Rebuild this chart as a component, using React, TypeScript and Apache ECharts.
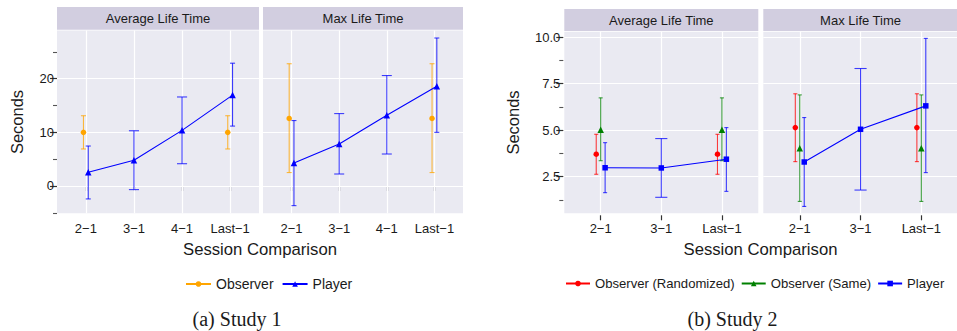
import React, { useEffect, useRef } from 'react';
import * as echarts from 'echarts';

// ---------- Data ----------
const catsA = ['2−1', '3−1', '4−1', 'Last−1'];
const catsB = ['2−1', '3−1', 'Last−1'];

const ticksAMajor = [0, 10, 20];
const ticksAMinor = [-5, 5, 15, 25];
const ticksBMajor = [2.5, 5, 7.5, 10];
const ticksBMinor = [1.25, 3.75, 6.25, 8.75];

// Study 1 – Average Life Time
const a1ObsMean = [10.0, null, null, 10.0];
const a1ObsLo = [6.9, null, null, 6.9];
const a1ObsHi = [13.1, null, null, 13.1];
const a1PlyMean = [2.55, 4.78, 10.37, 16.95];
const a1PlyLo = [-2.42, -0.68, 4.15, 11.17];
const a1PlyHi = [7.45, 10.3, 16.6, 22.9];
// Study 1 – Max Life Time
const a2ObsMean = [12.6, null, null, 12.6];
const a2ObsLo = [2.5, null, null, 2.5];
const a2ObsHi = [22.8, null, null, 22.8];
const a2PlyMean = [4.28, 7.82, 13.2, 18.6];
const a2PlyLo = [-3.67, 2.23, 5.96, 10.0];
const a2PlyHi = [12.2, 13.5, 20.6, 27.6];

// Study 2 – Average Life Time
const b1RandMean = [3.71, null, 3.71];
const b1RandLo = [2.63, null, 2.63];
const b1RandHi = [4.78, null, 4.78];
const b1SameMean = [5.03, null, 5.03];
const b1SameLo = [3.36, null, 3.36];
const b1SameHi = [6.74, null, 6.74];
const b1PlyMean = [2.98, 2.97, 3.44];
const b1PlyLo = [1.64, 1.39, 1.71];
const b1PlyHi = [4.33, 4.55, 5.14];
// Study 2 – Max Life Time
const b2RandMean = [5.14, null, 5.14];
const b2RandLo = [3.31, null, 3.31];
const b2RandHi = [6.96, null, 6.96];
const b2SameMean = [4.03, null, 4.03];
const b2SameLo = [1.17, null, 1.17];
const b2SameHi = [6.9, null, 6.9];
const b2PlyMean = [3.29, 5.05, 6.31];
const b2PlyLo = [0.9, 1.78, 2.72];
const b2PlyHi = [5.68, 8.32, 9.94];

// ---------- Styling ----------
const FONT = 'Liberation Sans';
const PANEL_BG = '#EAEAF2';
const STRIP_BG = '#D2CEE0';
const TXT = '#1a1a1a';
const TICK = '#333333';
const ORANGE = '#FFA500';
const BLUE = '#0000FF';
const RED = '#FF0000';
const GREEN = '#008000';

type Group = {
  name: string;
  color: string;
  symbol: string;
  size: number;
  mean: (number | null)[];
  lo: (number | null)[];
  hi: (number | null)[];
};

function panelSeries(groups: Group[], axisIdx: number, yIdx: number, dodge: number, capW: number, majors: number[], nCat: number) {
  const pos: number[][] = groups.map(() => []);
  const cap: number[][] = groups.map(() => []);
  for (let c = 0; c < nCat; c++) {
    const present = groups.map((g, i) => (g.mean[c] != null ? i : -1)).filter((i) => i >= 0);
    const n = present.length;
    present.forEach((gi, k) => {
      pos[gi][c] = c + 1 + (k - (n - 1) / 2) * (dodge / n);
      cap[gi][c] = capW / n;
    });
  }
  const series: any[] = [];
  const gridLines: any[] = [];
  majors.forEach((v) => gridLines.push({ yAxis: v }));
  for (let c = 0; c < nCat; c++) gridLines.push({ xAxis: c + 1 });
  series.push({
    type: 'line',
    name: 'grid-' + axisIdx,
    xAxisIndex: axisIdx,
    yAxisIndex: yIdx,
    data: [],
    z: 1,
    silent: true,
    markLine: {
      z: 1,
      silent: true,
      symbol: ['none', 'none'],
      label: { show: false },
      lineStyle: { color: '#ffffff', width: 1.2, type: 'solid', opacity: 1 },
      emphasis: { disabled: true },
      data: gridLines,
    },
  });
  groups.forEach((g, gi) => {
    const errData: number[][] = [];
    const ptData: any[] = [];
    for (let c = 0; c < nCat; c++) {
      if (g.mean[c] != null) {
        errData.push([pos[gi][c], g.mean[c] as number, g.lo[c] as number, g.hi[c] as number, cap[gi][c]]);
        ptData.push([pos[gi][c], g.mean[c]]);
      } else {
        ptData.push([c + 1, '-']);
      }
    }
    series.push({
      type: 'custom',
      name: g.name + ' err',
      xAxisIndex: axisIdx,
      yAxisIndex: yIdx,
      z: 3,
      silent: true,
      data: errData,
      renderItem: (params: any, api: any) => {
        const x = api.value(0);
        const lo = api.value(2);
        const hi = api.value(3);
        const w = api.value(4);
        const a = api.coord([x, hi]);
        const b = api.coord([x, lo]);
        const half = api.size([w, 0])[0] / 2;
        const style = { stroke: g.color, lineWidth: 1.1, opacity: 0.75 };
        return {
          type: 'group',
          children: [
            { type: 'line', shape: { x1: a[0], y1: a[1], x2: b[0], y2: b[1] }, style },
            { type: 'line', shape: { x1: a[0] - half, y1: a[1], x2: a[0] + half, y2: a[1] }, style },
            { type: 'line', shape: { x1: b[0] - half, y1: b[1], x2: b[0] + half, y2: b[1] }, style },
          ],
        };
      },
    });
    series.push({
      type: 'line',
      name: g.name,
      xAxisIndex: axisIdx,
      yAxisIndex: yIdx,
      z: 4,
      data: ptData,
      connectNulls: false,
      symbol: g.symbol,
      symbolSize: g.size,
      showSymbol: true,
      itemStyle: { color: g.color },
      lineStyle: { color: g.color, width: 1.1 },
      emphasis: { disabled: true },
      silent: true,
    });
  });
  return series;
}

function xAxisCfg(gridIndex: number, cats: string[]) {
  const vals = cats.map((_, i) => i + 1);
  return {
    type: 'value',
    gridIndex,
    min: 0.4,
    max: cats.length + 0.6,
    offset: 2,
    axisLine: { show: false },
    axisTick: { show: true, length: 5, customValues: vals, lineStyle: { color: TICK, width: 1.2 } },
    axisLabel: {
      customValues: vals,
      fontSize: 13,
      color: TXT,
      fontFamily: FONT,
      margin: 7,
      formatter: (v: number) => (Math.abs(v - Math.round(v)) < 1e-6 && cats[Math.round(v) - 1]) || '',
    },
    splitLine: { show: false },
  };
}

function yAxisMajor(gridIndex: number, min: number, max: number, majors: number[], fmt: (v: number) => string, offset: number) {
  return {
    type: 'value',
    gridIndex,
    position: 'left',
    min,
    max,
    offset,
    axisLine: { show: false },
    axisTick: { show: true, length: 7, customValues: majors, lineStyle: { color: TICK, width: 1.2 } },
    axisLabel: { customValues: majors, fontSize: 13, color: TXT, fontFamily: FONT, margin: 3, formatter: fmt },
    splitLine: { show: false },
  };
}

function yAxisMinor(gridIndex: number, min: number, max: number, minors: number[], offset: number) {
  return {
    type: 'value',
    gridIndex,
    position: 'left',
    min,
    max,
    offset,
    axisLine: { show: false },
    axisTick: { show: true, length: 4, customValues: minors, lineStyle: { color: '#555', width: 1.1 } },
    axisLabel: { show: false },
    splitLine: { show: false },
  };
}

function yAxisHidden(gridIndex: number, min: number, max: number) {
  return {
    type: 'value',
    gridIndex,
    min,
    max,
    axisLine: { show: false },
    axisTick: { show: false },
    axisLabel: { show: false },
    splitLine: { show: false },
  };
}

function strip(x: number, y: number, w: number, h: number, text: string) {
  return [
    { type: 'rect', shape: { x, y, width: w, height: h }, style: { fill: STRIP_BG }, silent: true },
    {
      type: 'text',
      x: x + w / 2,
      y: y + h / 2,
      silent: true,
      style: { text, fill: TXT, fontSize: 13, fontFamily: FONT, textAlign: 'center', textVerticalAlign: 'middle' },
    },
  ];
}

function label(x: number, y: number, text: string, size: number, family: string, rotation = 0) {
  return {
    type: 'text',
    x,
    y,
    rotation,
    silent: true,
    style: { text, fill: TXT, fontSize: size, fontFamily: family, textAlign: 'center', textVerticalAlign: 'middle' },
  };
}

export default function App() {
  const ref = useRef<HTMLDivElement>(null);
  useEffect(() => {
    document.body.style.margin = '0';
    document.body.style.overflow = 'hidden';
    if (!ref.current) return;
    const chart = echarts.init(ref.current, undefined, { renderer: 'svg' });

    const A_MIN = -5.1, A_MAX = 29.0;
    const B_MIN = 0.53, B_MAX = 10.3;

    const grids = [
      { left: 57, top: 30.5, width: 202, height: 182.8 },
      { left: 263, top: 30.5, width: 200, height: 182.8 },
      { left: 564.3, top: 31.7, width: 194, height: 181.6 },
      { left: 763.3, top: 31.7, width: 194.5, height: 181.6 },
    ].map((g) => ({ ...g, show: true, backgroundColor: PANEL_BG, borderWidth: 0, containLabel: false, outerBoundsMode: 'none' }));

    const fmtA = (v: number) => String(Math.round(v));
    const fmtB = (v: number) => v.toFixed(1);

    const yAxis = [
      yAxisMajor(0, A_MIN, A_MAX, ticksAMajor, fmtA, 0),
      yAxisMinor(0, A_MIN, A_MAX, ticksAMinor, 0),
      yAxisHidden(1, A_MIN, A_MAX),
      yAxisMajor(2, B_MIN, B_MAX, ticksBMajor, fmtB, 1),
      yAxisMinor(2, B_MIN, B_MAX, ticksBMinor, 1),
      yAxisHidden(3, B_MIN, B_MAX),
    ];
    const xAxis = [xAxisCfg(0, catsA), xAxisCfg(1, catsA), xAxisCfg(2, catsB), xAxisCfg(3, catsB)];

    const gA1: Group[] = [
      { name: 'Observer', color: ORANGE, symbol: 'circle', size: 5.5, mean: a1ObsMean, lo: a1ObsLo, hi: a1ObsHi },
      { name: 'Player', color: BLUE, symbol: 'triangle', size: 6.5, mean: a1PlyMean, lo: a1PlyLo, hi: a1PlyHi },
    ];
    const gA2: Group[] = [
      { name: 'Observer', color: ORANGE, symbol: 'circle', size: 5.5, mean: a2ObsMean, lo: a2ObsLo, hi: a2ObsHi },
      { name: 'Player', color: BLUE, symbol: 'triangle', size: 6.5, mean: a2PlyMean, lo: a2PlyLo, hi: a2PlyHi },
    ];
    const gB1: Group[] = [
      { name: 'Observer (Randomized)', color: RED, symbol: 'circle', size: 5.5, mean: b1RandMean, lo: b1RandLo, hi: b1RandHi },
      { name: 'Observer (Same)', color: GREEN, symbol: 'triangle', size: 6.5, mean: b1SameMean, lo: b1SameLo, hi: b1SameHi },
      { name: 'Player (Study 2)', color: BLUE, symbol: 'rect', size: 5.5, mean: b1PlyMean, lo: b1PlyLo, hi: b1PlyHi },
    ];
    const gB2: Group[] = [
      { name: 'Observer (Randomized)', color: RED, symbol: 'circle', size: 5.5, mean: b2RandMean, lo: b2RandLo, hi: b2RandHi },
      { name: 'Observer (Same)', color: GREEN, symbol: 'triangle', size: 6.5, mean: b2SameMean, lo: b2SameLo, hi: b2SameHi },
      { name: 'Player (Study 2)', color: BLUE, symbol: 'rect', size: 5.5, mean: b2PlyMean, lo: b2PlyLo, hi: b2PlyHi },
    ];

    const series = [
      ...panelSeries(gA1, 0, 0, 0.2, 0.21, ticksAMajor, catsA.length),
      ...panelSeries(gA2, 1, 2, 0.2, 0.21, ticksAMajor, catsA.length),
      ...panelSeries(gB1, 2, 3, 0.22, 0.2, ticksBMajor, catsB.length),
      ...panelSeries(gB2, 3, 5, 0.22, 0.2, ticksBMajor, catsB.length),
    ];

    const legendCommon = {
      orient: 'horizontal',
      top: 277,
      padding: 0,
      itemWidth: 25,
      itemHeight: 7,
      selectedMode: false,
    };

    const option: any = {
      animation: false,
      textStyle: { fontFamily: FONT },
      grid: grids,
      xAxis,
      yAxis,
      legend: [
        {
          ...legendCommon,
          left: 185,
          itemGap: 8,
          data: ['Observer', 'Player'],
          textStyle: { fontSize: 14, color: TXT, fontFamily: FONT },
        },
        {
          ...legendCommon,
          left: 565,
          width: 600,
          itemGap: 6,
          itemWidth: 24,
          data: ['Observer (Randomized)', 'Observer (Same)', 'Player (Study 2)'],
          textStyle: { fontSize: 13.1, color: TXT, fontFamily: FONT },
          formatter: (n: string) => (n === 'Player (Study 2)' ? 'Player' : n),
        },
      ],
      graphic: [
        ...strip(57, 7, 202, 22.7, 'Average Life Time'),
        ...strip(263, 7, 200, 22.7, 'Max Life Time'),
        ...strip(564.3, 9, 194, 22, 'Average Life Time'),
        ...strip(763.3, 9, 194.5, 22, 'Max Life Time'),
        label(17, 122, 'Seconds', 16.5, FONT, Math.PI / 2),
        label(513, 122.5, 'Seconds', 16.5, FONT, Math.PI / 2),
        label(260, 249.5, 'Session Comparison', 16.7, FONT),
        label(760.5, 249.5, 'Session Comparison', 16.7, FONT),
        label(237, 319, '(a) Study 1', 20, 'Liberation Serif'),
        label(732.5, 319, '(b) Study 2', 20, 'Liberation Serif'),
      ],
      series,
    };
    chart.setOption(option);
    return () => chart.dispose();
  }, []);
  return <div ref={ref} style={{ width: 957, height: 331 }} />;
}
